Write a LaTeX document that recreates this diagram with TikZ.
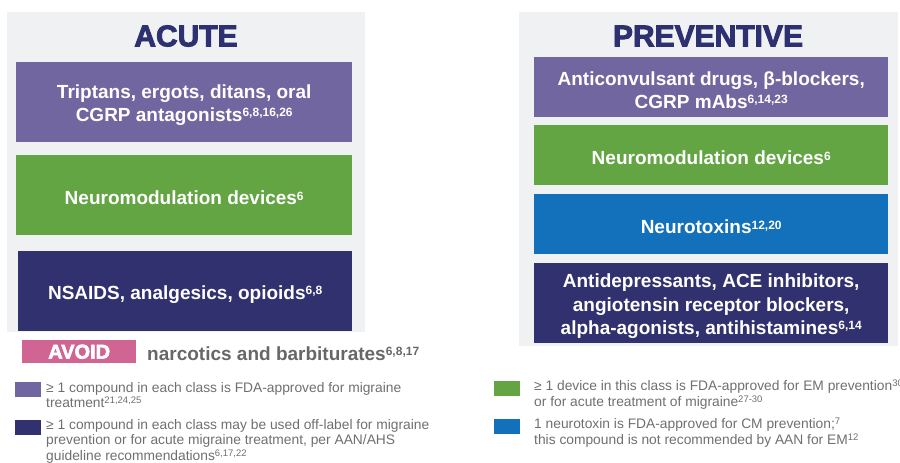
\documentclass[tikz,border=0pt]{standalone}
\usepackage{fontspec}
\setmainfont{Liberation Sans}
\newfontfamily\titlefont{Liberation Sans Bold}[FakeBold=3]

\definecolor{navy}{HTML}{2E3171}
\definecolor{panelgray}{HTML}{F0F1F3}
\definecolor{lavender}{HTML}{7266A0}
\definecolor{leaf}{HTML}{63A443}
\definecolor{ocean}{HTML}{1271BA}
\definecolor{deepnavy}{HTML}{31316F}
\definecolor{rose}{HTML}{D06492}
\definecolor{avoidgray}{HTML}{676767}
\definecolor{notegray}{HTML}{6F6F6F}

% reference numbers set as superscripts
\newcommand\refs[1]{\raisebox{0.26em}{\fontsize{12}{12}\selectfont #1}}
\newcommand\srefs[1]{\raisebox{0.3em}{\fontsize{9.5}{9.5}\selectfont #1}}

\tikzset{
  panel/.style={fill=panelgray, draw=none},
  heading/.style={text=navy, font=\titlefont\fontsize{30}{30}\selectfont, inner sep=0},
  classbox/.style={rectangle, anchor=north west, inner sep=0},
  boxtext/.style={inner sep=0, align=center, text=white, yshift=-3pt,
    font=\bfseries\fontsize{19}{23.5}\selectfont},
  legsq/.style={rectangle, anchor=north west, inner sep=0,
    minimum width=26, minimum height=15},
  legtext/.style={anchor=north west, inner sep=0, align=left, text=notegray,
    font=\fontsize{13.8}{15.7}\selectfont},
}

\begin{document}
\begin{tikzpicture}[x=1pt, y=-1pt]
\useasboundingbox (0,0) rectangle (900,463);
\clip (0,0) rectangle (900,463);

% ---------- acute treatment panel ----------
\fill[panel] (7,12) rectangle (365,332);
\node[heading] (acute) at (186,36) {ACUTE};
\node[classbox, fill=lavender, minimum width=336, minimum height=80] (acuteA) at (16,62) {};
\node[boxtext] (acuteAtext) at (acuteA.center)
  {Triptans, ergots, ditans, oral\\CGRP antagonists\refs{6,8,16,26}};
\node[classbox, fill=leaf, minimum width=336, minimum height=80] (acuteB) at (16,155) {};
\node[boxtext] (acuteBtext) at (acuteB.center) {Neuromodulation devices\refs{6}};
\node[classbox, fill=deepnavy, minimum width=334, minimum height=80] (acuteC) at (18,251) {};
\node[boxtext] (acuteCtext) at (acuteC.center) {NSAIDS, analgesics, opioids\refs{6,8}};

% things to avoid
\node[rectangle, fill=rose, inner sep=0, anchor=north west, minimum width=114,
  minimum height=23, text=white, font=\titlefont\fontsize{20}{20}\selectfont]
  (avoid) at (22,340) {AVOID};
\node[anchor=base west, inner sep=0, text=avoidgray,
  font=\bfseries\fontsize{19}{19}\selectfont] (avoidtext) at (147,360)
  {narcotics and barbiturates\refs{6,8,17}};

% ---------- preventive treatment panel ----------
\fill[panel] (519,12) rectangle (898,346);
\node[heading] (preventive) at (708,36) {PREVENTIVE};
\node[classbox, fill=lavender, minimum width=354, minimum height=60] (prevA) at (534,57) {};
\node[boxtext] (prevAtext) at (prevA.center)
  {Anticonvulsant drugs, β-blockers,\\CGRP mAbs\refs{6,14,23}};
\node[classbox, fill=leaf, minimum width=354, minimum height=60] (prevB) at (534,125) {};
\node[boxtext] (prevBtext) at (prevB.center) {Neuromodulation devices\refs{6}};
\node[classbox, fill=ocean, minimum width=354, minimum height=60] (prevC) at (534,194) {};
\node[boxtext] (prevCtext) at (prevC.center) {Neurotoxins\refs{12,20}};
\node[classbox, fill=deepnavy, minimum width=354, minimum height=80] (prevD) at (534,263) {};
\node[boxtext] (prevDtext) at (prevD.center)
  {Antidepressants, ACE inhibitors,\\angiotensin receptor blockers,\\alpha-agonists, antihistamines\refs{6,14}};

% ---------- legend ----------
\node[legsq, fill=lavender] (keyA) at (15,382) {};
\node[legtext] (noteA) at (46,382)
  {≥ 1 compound in each class is FDA-approved for migraine\\treatment\srefs{21,24,25}};
\node[legsq, fill=deepnavy] (keyB) at (15,420) {};
\node[legtext] (noteB) at (46,419)
  {≥ 1 compound in each class may be used off-label for migraine\\prevention or for acute migraine treatment, per AAN/AHS\\guideline recommendations\srefs{6,17,22}};

\node[legsq, fill=leaf] (keyC) at (494,381) {};
\node[legtext] (noteC) at (534,380)
  {≥ 1 device in this class is FDA-approved for EM prevention\srefs{30}\\or for acute treatment of migraine\srefs{27-30}};
\node[legsq, fill=ocean] (keyD) at (494,419) {};
\node[legtext] (noteD) at (534,418)
  {1 neurotoxin is FDA-approved for CM prevention;\srefs{7}\\this compound is not recommended by AAN for EM\srefs{12}};
\end{tikzpicture}
\end{document}
